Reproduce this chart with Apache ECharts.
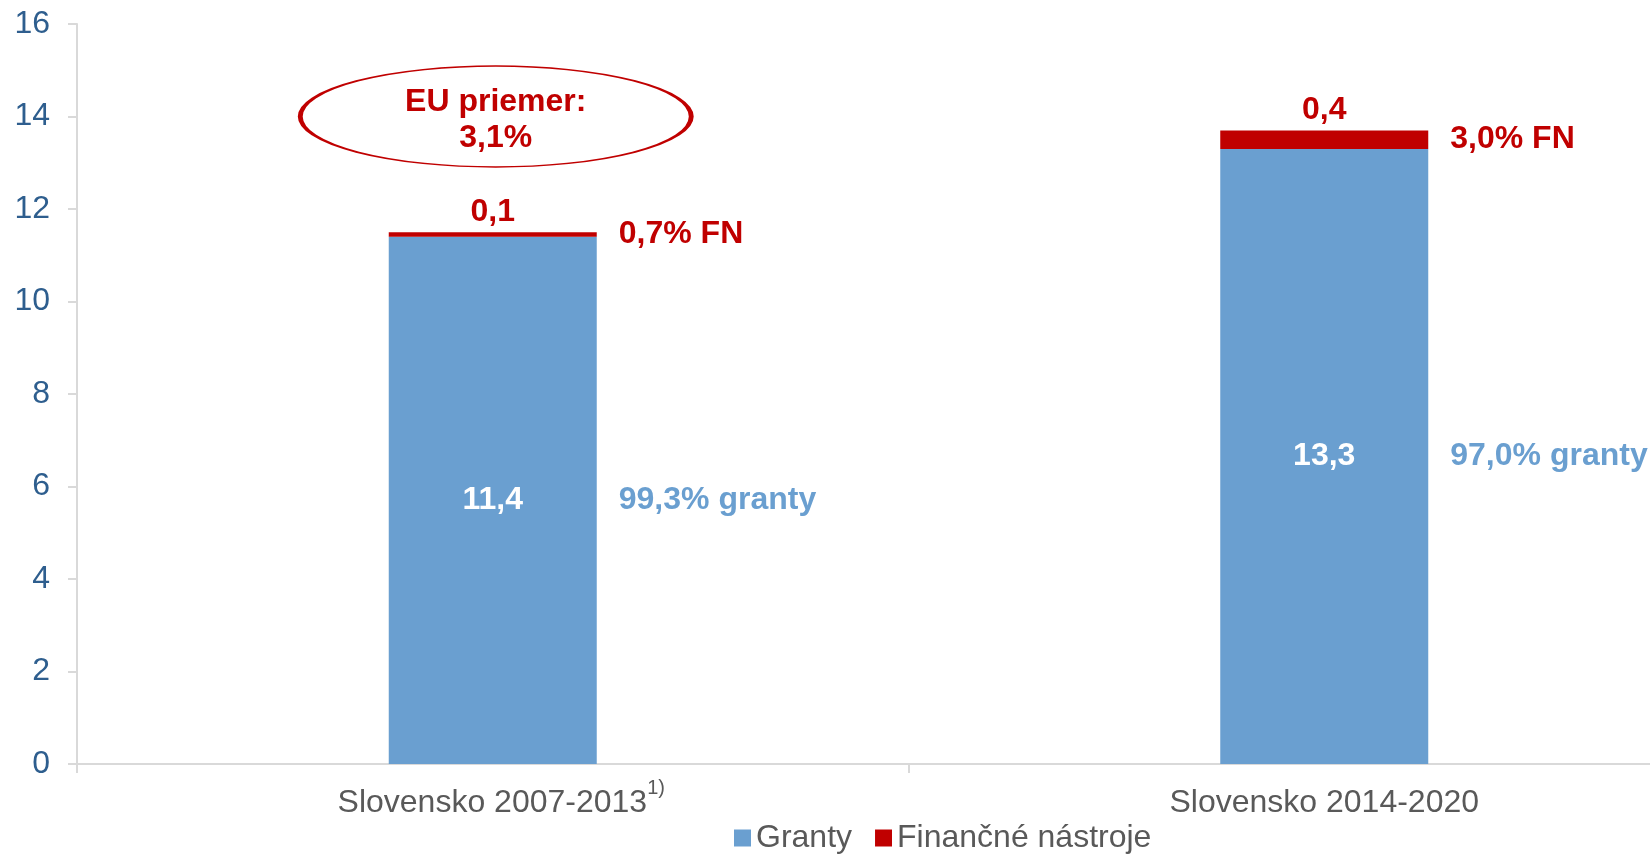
<!DOCTYPE html>
<html><head><meta charset="utf-8">
<script src="https://cdn.jsdelivr.net/npm/echarts@6/dist/echarts.min.js"></script>
<style>html,body{margin:0;padding:0;background:#fff}#c{width:1650px;height:856px}</style>
</head><body><div id="c"></div>
<script>
const categories = ['Slovensko 2007-2013', 'Slovensko 2014-2020'];
const categoryNotes = ['1)', ''];
const grantValues = [11.4, 13.3];
const fnValues = [0.1, 0.4];
const grantShares = ['99,3% granty', '97,0% granty'];
const fnShares = ['0,7% FN', '3,0% FN'];
const seriesNames = ['Granty', 'Finančné nástroje'];
const yMin = 0, yMax = 16, yInterval = 2;
const euAverage = [['Slovensko 2007-2013', 14]];
const euText = 'EU priemer:\n3,1%';

const BLUE = '#6A9FD0', RED = '#C00000', GREY = '#595959', AXIS = '#D9D9D9';
const FONT = '"Liberation Sans", Arial, sans-serif';
const fmt = v => v.toFixed(1).replace('.', ',');

const chart = echarts.init(document.getElementById('c'));
chart.setOption({
  animation: false,
  textStyle: { fontFamily: FONT },
  grid: { left: 77, width: 1663, top: 24, bottom: 92, containLabel: false, outerBoundsMode: 'none' },
  legend: {
    data: seriesNames, left: 729, top: 817, icon: 'rect',
    itemWidth: 17, itemHeight: 17, itemGap: 23,
    textStyle: { fontSize: 32, color: GREY, fontFamily: FONT }
  },
  xAxis: {
    type: 'category', data: categories,
    axisLine: { show: true, lineStyle: { color: AXIS, width: 2 } },
    axisTick: { show: true, length: 9, lineStyle: { color: AXIS, width: 2 } },
    axisLabel: {
      margin: 14,
      formatter: (v, i) => categoryNotes[i] ? '{b|' + v + '}{s|' + categoryNotes[i] + '}' : '{a|' + v + '}',
      rich: {
        a: { fontSize: 32, color: GREY, fontFamily: FONT, lineHeight: 51 },
        b: { fontSize: 32, color: GREY, fontFamily: FONT, lineHeight: 51, padding: [0, 0, 0, 17] },
        s: { fontSize: 20, color: GREY, fontFamily: FONT, verticalAlign: 'top', lineHeight: 20 }
      }
    }
  },
  yAxis: {
    type: 'value', min: yMin, max: yMax, interval: yInterval,
    axisLine: { show: true, lineStyle: { color: AXIS, width: 2 } },
    axisTick: { show: true, length: 9, lineStyle: { color: AXIS, width: 2 } },
    splitLine: { show: false },
    axisLabel: { fontSize: 32, color: '#2E5E8E', margin: 27, fontFamily: FONT }
  },
  series: [
    {
      name: seriesNames[0], type: 'bar', stack: 'a', data: grantValues,
      barWidth: 208, barGap: '-100%',
      itemStyle: { color: BLUE },
      label: { show: true, position: 'inside', color: '#fff', fontSize: 32, fontWeight: 'bold',
        formatter: p => fmt(p.value) }
    },
    {
      name: seriesNames[1], type: 'bar', stack: 'a', data: fnValues,
      barWidth: 208, barGap: '-100%',
      itemStyle: { color: RED },
      label: { show: true, position: 'top', distance: 4, color: RED, fontSize: 32, fontWeight: 'bold',
        formatter: p => fmt(p.value) }
    },
    {
      name: 'grantShare', type: 'bar', stack: 'b', data: grantValues,
      barWidth: 208, barGap: '-100%', silent: true,
      itemStyle: { color: 'rgba(0,0,0,0)' },
      label: { show: true, position: 'right', distance: 22, color: BLUE, fontSize: 32, fontWeight: 'bold',
        formatter: p => grantShares[p.dataIndex] }
    },
    {
      name: 'fnShare', type: 'bar', stack: 'b', data: fnValues,
      barWidth: 208, barGap: '-100%', silent: true,
      itemStyle: { color: 'rgba(0,0,0,0)' },
      label: { show: true, position: 'right', distance: 22, color: RED, fontSize: 32, fontWeight: 'bold',
        formatter: p => fnShares[p.dataIndex] }
    },
    {
      name: 'eu', type: 'scatter', data: euAverage, silent: true,
      symbol: 'circle', symbolSize: [391, 101], symbolOffset: [3, 0],
      itemStyle: { color: '#fff', borderColor: RED, borderWidth: 2.5, opacity: 1 },
      label: { show: true, position: 'inside', offset: [0, 4], color: RED, fontSize: 32, fontWeight: 'bold',
        lineHeight: 36, formatter: () => euText }
    }
  ]
});
</script></body></html>
